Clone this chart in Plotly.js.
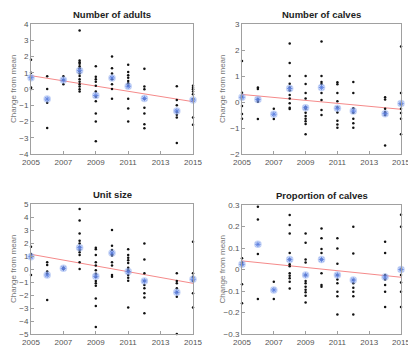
<!DOCTYPE html>
<html><head><meta charset="utf-8">
<script src="https://cdn.plot.ly/plotly-3.0.1.min.js"></script>
<style>html,body{margin:0;padding:0;background:#fff;overflow:hidden}#c{width:420px;height:347px}</style>
</head><body><div id="c"></div>
<script>
const years = [2005, 2006, 2007, 2008, 2009, 2010, 2011, 2012, 2014, 2015];

const adultsVals = [
  [1.8, 1.0, 0.1, 0.0],
  [0.78, 0.0, -0.84, -2.4],
  [0.78, 0.55, 0.3],
  [3.6, 1.75, 1.65, 1.55, 1.4, 1.27, 1.1, 0.95, 0.8, 0.6, 0.45, 0.3, 0.15, -0.02, -0.16],
  [1.4, 0.75, 0.6, 0.45, 0.2, -0.15, -0.47, -0.75, -1.5, -2.0, -3.22],
  [2.0, 1.27, 0.95, 0.6, 0.3, 0.0, -0.6],
  [1.5, 1.05, 0.85, 0.7, 0.5, 0.35, 0.2, -0.6, -1.2, -2.0],
  [1.25, 0.15, -0.02, -0.6, -1.15, -1.5, -2.17, -2.42],
  [0.17, -0.68, -1.0, -1.4, -1.58, -1.75, -3.32],
  [0.2, 0.08, -0.02, -0.16, -0.33, -0.63, -1.75, -2.2]
];
const adultsMeans = [0.7, -0.62, 0.55, 1.13, -0.4, 0.68, 0.17, -0.58, -1.35, -0.68];
const adultsTrend = [0.82, -0.78];

const calvesVals = [
  [1.58, 0.36, 0.2, -0.15, -0.46, -0.64],
  [0.56, 0.5, 0.1, 0.01, -0.65],
  [-0.26, -0.65],
  [2.25, 1.5, 1.0, 0.7, 0.56, 0.44, 0.27, 0.13, -0.05, -0.22, -0.27],
  [1.0, 0.69, 0.35, 0.13, -0.2, -0.26, -0.41, -0.54, -0.64, -0.74, -0.85, -1.24],
  [2.33, 1.0, 0.77, 0.69, 0.35, 0.08, -0.31, -0.5],
  [0.76, 0.68, 0.35, 0.03, -0.2, -0.4, -0.72, -0.87, -0.99],
  [0.77, 0.35, -0.24, -0.41, -0.64, -0.82, -0.99],
  [0.18, 0.1, -0.26, -0.38, -0.44, -0.5, -1.67],
  [2.13, 0.35, -0.09, -0.26, -0.42, -0.64, -1.24]
];
const calvesMeans = [0.18, 0.1, -0.47, 0.52, -0.22, 0.56, -0.24, -0.35, -0.45, -0.06];
const calvesTrend = [0.29, -0.28];

const unitVals = [
  [1.72, 1.15, 0.95, -0.46],
  [0.51, 0.31, -0.2, -0.38, -2.38],
  [0.1, 0.0],
  [4.62, 3.74, 2.74, 2.18, 1.97, 1.69, 1.46, 1.28, 1.08, 0.51, 0.0],
  [1.64, 1.51, 1.08, 0.51, 0.26, -0.1, -0.36, -0.59, -0.92, -1.1, -1.28, -2.26, -2.85, -4.46],
  [3.0, 1.79, 1.46, 1.15, 1.03, 0.51, 0.26, -0.46, -0.59],
  [1.51, 1.08, 0.87, 0.67, 0.46, 0.1, -0.1, -0.2, -0.46, -0.67, -0.9, -2.97],
  [1.97, 0.74, -0.33, -0.92, -1.23, -1.49, -1.87, -2.2, -3.41],
  [-0.33, -0.92, -1.1, -1.49, -1.79, -2.13, -5.0],
  [2.1, -0.33, -0.59, -0.92, -1.87, -2.97]
];
const unitMeans = [0.95, -0.46, 0.05, 1.64, -0.56, 1.23, -0.2, -0.92, -1.79, -0.79];
const unitTrend = [1.13, -1.1];

const propVals = [
  [0.052, 0.033, 0.024, -0.069, -0.157],
  [0.292, 0.233, 0.072, -0.137],
  [-0.057, -0.137],
  [0.253, 0.207, 0.168, 0.077, 0.046, 0.024, 0.015, -0.018, -0.029, -0.041, -0.057, -0.088],
  [0.168, 0.125, 0.046, 0.033, -0.026, -0.053, -0.064, -0.08, -0.094, -0.106, -0.122, -0.154],
  [0.191, 0.145, 0.095, 0.077, 0.046, -0.018, -0.072, -0.08],
  [0.145, 0.098, 0.027, -0.026, -0.046, -0.064, -0.103, -0.124, -0.209],
  [0.199, 0.075, -0.049, -0.064, -0.085, -0.103, -0.124, -0.209],
  [0.129, 0.077, -0.026, -0.046, -0.072, -0.103, -0.174],
  [0.255, 0.199, 0.0, -0.026, -0.06, -0.103, -0.174]
];
const propMeans = [0.024, 0.117, -0.095, 0.046, -0.026, 0.046, -0.026, -0.049, -0.035, 0.0];
const propTrend = [0.04, -0.036];

const titles = ["Number of adults", "Number of calves", "Unit size", "Proportion of calves"];
const yTitle = "Change from mean";
const yRanges = [[-4, 4], [-2, 3], [-5, 5], [-0.3, 0.3]];
const yDtick = [1, 1, 1, 0.1];
const xTicks = [2005, 2007, 2009, 2011, 2013, 2015];
const trendYears = [2005, 2015];

const panels = [
  [adultsVals, adultsMeans, adultsTrend],
  [calvesVals, calvesMeans, calvesTrend],
  [unitVals, unitMeans, unitTrend],
  [propVals, propMeans, propTrend]
];

const W = 420, H = 347;
const xPx = [[31, 193], [242, 401], [31, 193], [242, 401]];
const yPx = [[24, 154], [24, 154], [204, 334], [205, 334]];
const yTitleX = [13, 222, 13, 222];
const xDomains = xPx.map(a => [a[0] / W, a[1] / W]);
const yDomains = yPx.map(a => [1 - a[1] / H, 1 - a[0] / H]);

const traces = [];
const layout = {
  width: W, height: H,
  margin: {l: 0, r: 0, t: 0, b: 0},
  paper_bgcolor: '#fff', plot_bgcolor: '#fff',
  showlegend: false,
  font: {family: 'Liberation Sans, Arial, sans-serif', size: 8, color: '#555'},
  annotations: []
};

panels.forEach((p, i) => {
  const [vals, means, trend] = p;
  const xa = i === 0 ? 'x' : 'x' + (i + 1);
  const ya = i === 0 ? 'y' : 'y' + (i + 1);
  const xs = [], ys = [];
  vals.forEach((arr, k) => arr.forEach(v => { xs.push(years[k]); ys.push(v); }));
  traces.push({x: trendYears, y: trend, xaxis: xa, yaxis: ya, mode: 'lines',
    line: {color: '#f58a8a', width: 1}, hoverinfo: 'skip'});
  traces.push({x: xs, y: ys, xaxis: xa, yaxis: ya, mode: 'markers', cliponaxis: false,
    marker: {color: '#111', size: 2.5}});
  traces.push({x: years, y: means, xaxis: xa, yaxis: ya, mode: 'markers', cliponaxis: false,
    marker: {color: 'rgba(140,170,240,0.5)', size: 7.5}});
  traces.push({x: years, y: means, xaxis: xa, yaxis: ya, mode: 'markers', cliponaxis: false,
    marker: {symbol: 'asterisk-open', color: '#5a7ee0', size: 4.5, line: {color: 'rgba(80,115,220,0.8)', width: 0.8}}});

  const axCommon = {showgrid: false, zeroline: false, showline: true, mirror: true,
    linecolor: '#a0a0a0', linewidth: 1, ticks: 'inside', ticklen: 3, tickcolor: '#a0a0a0',
    tickfont: {size: 8, color: '#555'}};
  layout['xaxis' + (i === 0 ? '' : i + 1)] = Object.assign({}, axCommon, {
    domain: xDomains[i], anchor: ya, range: [2005, 2015], tickvals: xTicks,
    ticktext: xTicks.map(String)});
  layout['yaxis' + (i === 0 ? '' : i + 1)] = Object.assign({}, axCommon, {
    domain: yDomains[i], anchor: xa, range: yRanges[i], dtick: yDtick[i], tick0: 0});
  layout.annotations.push({text: '<b>' + titles[i] + '</b>', xref: 'paper', yref: 'paper',
    x: (xDomains[i][0] + xDomains[i][1]) / 2, y: yDomains[i][1] + 0.006, xanchor: 'center', yanchor: 'bottom',
    showarrow: false, font: {size: 9.5, color: '#222'}});
  layout.annotations.push({text: yTitle, xref: 'paper', yref: 'paper', textangle: -90,
    x: yTitleX[i] / W, y: (yDomains[i][0] + yDomains[i][1]) / 2, xanchor: 'center', yanchor: 'middle',
    showarrow: false, font: {size: 8, color: '#777'}});
});

Plotly.newPlot('c', traces, layout, {staticPlot: true, displayModeBar: false});
</script></body></html>
